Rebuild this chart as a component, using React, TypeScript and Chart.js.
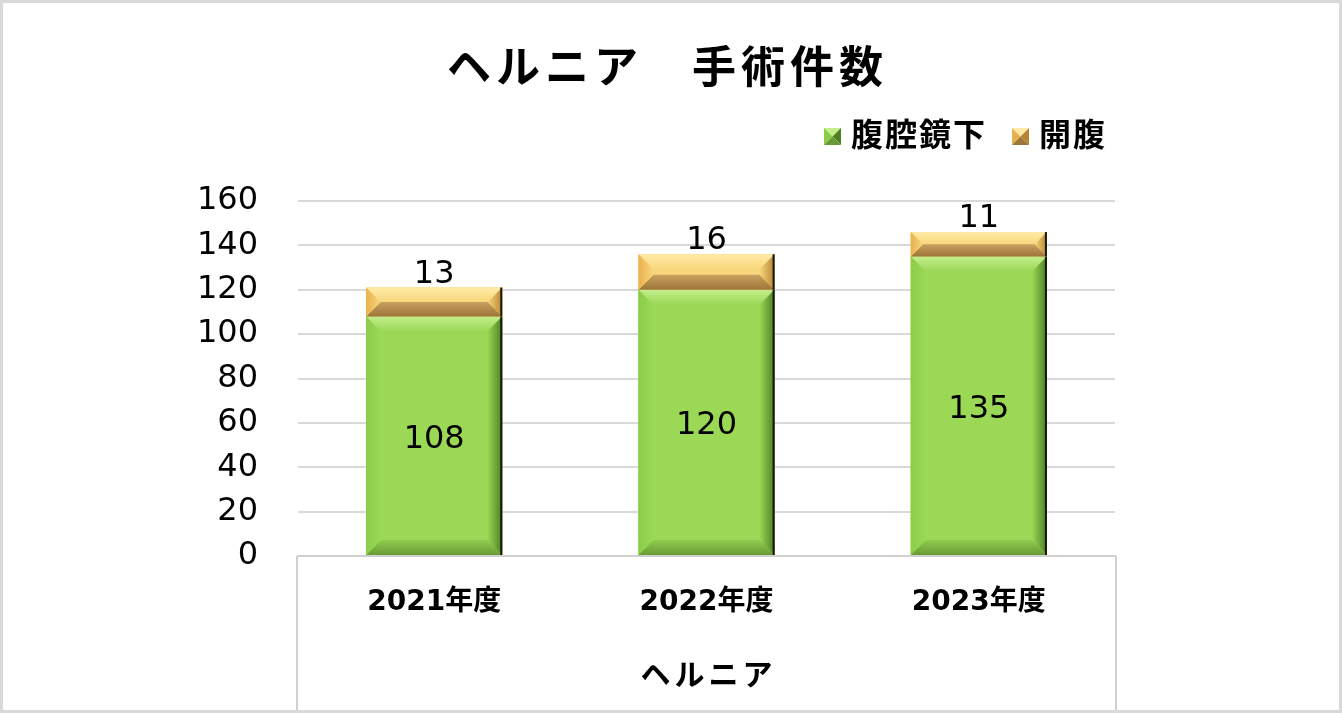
import React, { useEffect, useRef } from "react";
import { Chart, registerables } from "chart.js";

Chart.register(...registerables);

const TITLE = "ヘルニア　手術件数";
const GROUP_LABEL = "ヘルニア";
const categories = ["2021年度", "2022年度", "2023年度"];
const seriesNames = ["腹腔鏡下", "開腹"];
const laparoscopic = [108, 120, 135];
const openSurgery = [13, 16, 11];
const Y_MIN = 0;
const Y_MAX = 160;
const Y_STEP = 20;

const W = 1342;
const H = 713;

type Bevel = { face: string; light: string; dark: string; left: string; right: string; mid: string };
const bevels: Bevel[] = [
  { face: "#9ad856", light: "#c4ee8c", dark: "#6a9a35", left: "#8ccc4a", right: "#4e7f22", mid: "#8fcc4e" },
  { face: "#f8d77c", light: "#ffeaa6", dark: "#9c7538", left: "#e9b04f", right: "#b88433", mid: "#c9a060" },
];

const CJK = "'Noto Sans CJK JP', 'Noto Sans CJK SC', sans-serif";
const NUM = "'DejaVu Sans', 'Noto Sans CJK JP', sans-serif";

function drawBarBevel(ctx: CanvasRenderingContext2D, l: number, r: number, t: number, b: number, st: Bevel) {
  const h = b - t;
  const w = r - l;
  const d = Math.min(15, h / 2, w / 2);
  ctx.save();
  ctx.fillStyle = st.face;
  ctx.fillRect(l, t, w, h);
  let g = ctx.createLinearGradient(0, t, 0, t + d);
  g.addColorStop(0, st.light);
  g.addColorStop(1, st.face);
  ctx.fillStyle = g;
  ctx.beginPath();
  ctx.moveTo(l, t);
  ctx.lineTo(r, t);
  ctx.lineTo(r - d, t + d);
  ctx.lineTo(l + d, t + d);
  ctx.closePath();
  ctx.fill();
  g = ctx.createLinearGradient(0, b - d, 0, b);
  g.addColorStop(0, st.mid);
  g.addColorStop(1, st.dark);
  ctx.fillStyle = g;
  ctx.beginPath();
  ctx.moveTo(l, b);
  ctx.lineTo(r, b);
  ctx.lineTo(r - d, b - d);
  ctx.lineTo(l + d, b - d);
  ctx.closePath();
  ctx.fill();
  g = ctx.createLinearGradient(l, 0, l + d, 0);
  g.addColorStop(0, st.left);
  g.addColorStop(1, st.face);
  ctx.fillStyle = g;
  ctx.beginPath();
  ctx.moveTo(l, t);
  ctx.lineTo(l + d, t + d);
  ctx.lineTo(l + d, b - d);
  ctx.lineTo(l, b);
  ctx.closePath();
  ctx.fill();
  g = ctx.createLinearGradient(r - d, 0, r, 0);
  g.addColorStop(0, st.face);
  g.addColorStop(1, st.right);
  ctx.fillStyle = g;
  ctx.beginPath();
  ctx.moveTo(r, t);
  ctx.lineTo(r - d, t + d);
  ctx.lineTo(r - d, b - d);
  ctx.lineTo(r, b);
  ctx.closePath();
  ctx.fill();
  ctx.fillStyle = "#151a0c";
  ctx.fillRect(r - 2, t, 2, h);
  ctx.restore();
}

function drawLegendBox(ctx: CanvasRenderingContext2D, x: number, y: number, s: number, st: Bevel) {
  const cx = x + s / 2;
  const cy = y + s / 2;
  const tri = (ax: number, ay: number, bx: number, by: number, c: string) => {
    ctx.fillStyle = c;
    ctx.beginPath();
    ctx.moveTo(ax, ay);
    ctx.lineTo(bx, by);
    ctx.lineTo(cx, cy);
    ctx.closePath();
    ctx.fill();
  };
  tri(x, y, x + s, y, st.light);
  tri(x, y, x, y + s, st.left);
  tri(x + s, y, x + s, y + s, st.right);
  tri(x, y + s, x + s, y + s, st.dark);
}

const decorPlugin = {
  id: "decor",
  afterDatasetsDraw(chart: any) {
    const ctx: CanvasRenderingContext2D = chart.ctx;
    chart.data.datasets.forEach((ds: any, di: number) => {
      const meta = chart.getDatasetMeta(di);
      const st = bevels[di];
      meta.data.forEach((el: any) => {
        const p = el.getProps(["x", "y", "base", "width"], true);
        drawBarBevel(ctx, p.x - p.width / 2, p.x + p.width / 2, Math.min(p.y, p.base), Math.max(p.y, p.base), st);
      });
    });
    chart.data.datasets.forEach((ds: any, di: number) => {
      const meta = chart.getDatasetMeta(di);
      meta.data.forEach((el: any, i: number) => {
        const p = el.getProps(["x", "y", "base", "width"], true);
        const t = Math.min(p.y, p.base);
        const b = Math.max(p.y, p.base);
        ctx.save();
        ctx.fillStyle = "#000";
        ctx.font = `32px ${NUM}`;
        ctx.textAlign = "center";
        ctx.textBaseline = "alphabetic";
        if (di === 0) {
          ctx.fillText(String(ds.data[i]), p.x, (t + b) / 2 + 12);
        } else {
          ctx.fillText(String(ds.data[i]), p.x, t - 5);
        }
        ctx.restore();
      });
    });
  },
  afterDraw(chart: any) {
    const ctx: CanvasRenderingContext2D = chart.ctx;
    const ca = chart.chartArea;
    ctx.save();
    ctx.strokeStyle = "#d0d0d0";
    ctx.lineWidth = 2;
    ctx.beginPath();
    ctx.moveTo(ca.left - 1, ca.bottom);
    ctx.lineTo(ca.left - 1, H - 3);
    ctx.moveTo(ca.right + 1, ca.bottom);
    ctx.lineTo(ca.right + 1, H - 3);
    ctx.stroke();
    ctx.fillStyle = "#000";
    ctx.font = `bold 30px ${CJK}`;
    (ctx as any).letterSpacing = "4px";
    ctx.textAlign = "center";
    ctx.textBaseline = "middle";
    ctx.fillText(GROUP_LABEL, (ca.left + ca.right) / 2 + 2, 674);
    ctx.font = `bold 44px ${CJK}`;
    (ctx as any).letterSpacing = "5px";
    ctx.fillText(TITLE, 665 + 2.5, 66);
    ctx.font = `bold 32px ${CJK}`;
    (ctx as any).letterSpacing = "2px";
    ctx.textAlign = "left";
    const legendPos = [
      { box: 824, text: 851 },
      { box: 1012, text: 1039 },
    ];
    chart.data.datasets.forEach((ds: any, di: number) => {
      drawLegendBox(ctx, legendPos[di].box, 128, 17, bevels[di]);
      ctx.fillStyle = "#000";
      ctx.fillText(ds.label, legendPos[di].text, 134);
    });
    (ctx as any).letterSpacing = "0px";
    ctx.strokeStyle = "#d9d9d9";
    ctx.lineWidth = 3;
    ctx.strokeRect(1.5, 1.5, W - 3, H - 3);
    ctx.restore();
  },
};

export default function App() {
  const ref = useRef<HTMLCanvasElement | null>(null);
  useEffect(() => {
    if (!ref.current) return;
    const chart = new Chart(ref.current, {
      type: "bar",
      data: {
        labels: categories,
        datasets: [
          { label: seriesNames[0], data: laparoscopic, backgroundColor: bevels[0].face, borderWidth: 0 },
          { label: seriesNames[1], data: openSurgery, backgroundColor: bevels[1].face, borderWidth: 0 },
        ],
      },
      options: {
        responsive: false,
        animation: false,
        devicePixelRatio: 1,
        layout: { padding: { top: 201, right: 227, bottom: 0, left: 0 } },
        plugins: { legend: { display: false }, title: { display: false }, tooltip: { enabled: false } },
        datasets: { bar: { categoryPercentage: 1, barPercentage: 0.5 } },
        scales: {
          x: {
            stacked: true,
            grid: { display: false, drawTicks: false },
            border: { display: true, color: "#d0d0d0", width: 2 },
            ticks: { color: "#000", padding: 30, font: { family: NUM, size: 28, weight: "bold" } },
            afterFit: (s: any) => {
              s.height = 157;
            },
          },
          y: {
            stacked: true,
            min: Y_MIN,
            max: Y_MAX,
            ticks: { stepSize: Y_STEP, color: "#000", padding: 40, font: { family: NUM, size: 32 } },
            grid: { color: "#d9d9d9", lineWidth: 2, drawTicks: false },
            border: { display: false },
            afterFit: (s: any) => {
              s.width = 298;
            },
          },
        },
      },
      plugins: [decorPlugin],
    });
    return () => chart.destroy();
  }, []);
  return (
    <div style={{ position: "fixed", left: 0, top: 0, width: W, height: H, background: "#fff" }}>
      <canvas ref={ref} width={W} height={H} style={{ width: W, height: H, display: "block" }} />
    </div>
  );
}
